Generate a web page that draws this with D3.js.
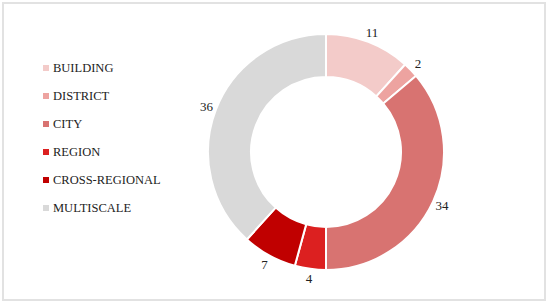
<!DOCTYPE html>
<head>
  <meta charset="utf-8">
  <script src="https://d3js.org/d3.v7.min.js"></script>
  <style>
    body { margin:0; background:#fff; }
    text { font-family: "Liberation Serif", "DejaVu Serif", serif; fill:#222; }
  </style>
</head>

<body>
  <script>
  // ---------- data ----------
    var categories = ["BUILDING", "DISTRICT", "CITY", "REGION", "CROSS-REGIONAL", "MULTISCALE"];
    var values = [11, 2, 34, 4, 7, 36];
    var colors = ["#f3cbc9", "#eda3a0", "#d87371", "#dc2020", "#c00000", "#d9d9d9"];

    var width = 550, height = 305;

    var svg = d3.select("body").append("svg")
      .attr("width", width)
      .attr("height", height);

  // ---------- frame ----------
    svg.append("rect")
      .attr("x", 3).attr("y", 3)
      .attr("width", 542).attr("height", 297)
      .attr("fill", "none")
      .attr("stroke", "#e2e2e2")
      .attr("stroke-width", 2);

  // ---------- doughnut ----------
    var center = [326, 152],
        outerR = 118,
        innerR = 75;

    var pie = d3.pie().sort(null).value(d => d);
    var arcs = pie(values);

    var arc = d3.arc().innerRadius(innerR).outerRadius(outerR);
    var labelArc = d3.arc().innerRadius(outerR + 10).outerRadius(outerR + 10);

    var g = svg.append("g")
      .attr("transform", "translate(" + center + ")");

    g.selectAll("path.slice")
      .data(arcs)
      .enter().append("path")
      .attr("class", "slice")
      .attr("d", arc)
      .attr("fill", (d, i) => colors[i])
      .attr("stroke", "#fff")
      .attr("stroke-width", 2);

    g.selectAll("text.lbl")
      .data(arcs)
      .enter().append("text")
      .attr("class", "lbl")
      .attr("transform", d => "translate(" + labelArc.centroid(d) + ")")
      .attr("text-anchor", "middle")
      .attr("dy", "0.35em")
      .attr("font-size", 13)
      .text(d => d.data);

  // ---------- legend ----------
    var legend = svg.append("g")
      .attr("transform", "translate(43,68)");

    var item = legend.selectAll("g.item")
      .data(categories)
      .enter().append("g")
      .attr("class", "item")
      .attr("transform", (d, i) => "translate(0," + i * 28 + ")");

    item.append("rect")
      .attr("x", 0).attr("y", -3)
      .attr("width", 6).attr("height", 6)
      .attr("fill", (d, i) => colors[i]);

    item.append("text")
      .attr("x", 10)
      .attr("dy", "0.35em")
      .attr("font-size", 12.5)
      .text(d => d);
  </script>
</body>
